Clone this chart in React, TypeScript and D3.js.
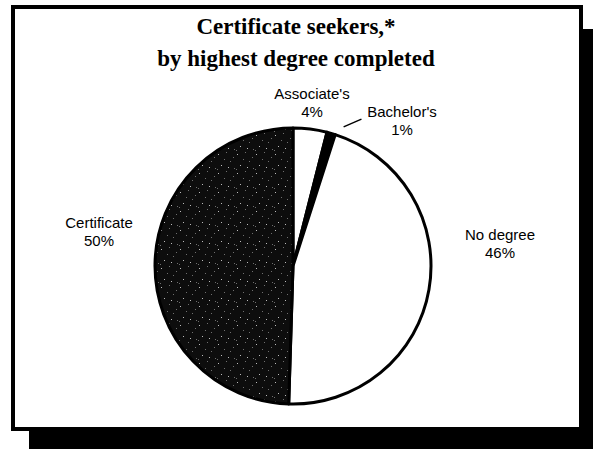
import React from "react";
import * as d3 from "d3";

const W = 593;
const H = 449;

const titleLines = ["Certificate seekers,*", "by highest degree completed"];
const categories = ["Associate's", "Bachelor's", "No degree", "Certificate"];
const shares = [4, 1, 46, 50];
const shareLabels = ["4%", "1%", "46%", "50%"];

// label anchors, relative to pie centre
const labelAt: Record<string, [number, number]> = {
  "Associate's": [19, -167],
  "Bachelor's": [109, -149],
  "No degree": [207, -26],
  Certificate: [-194, -38],
};

// a few fixed light specks for the grainy dark fill
const specks = [
  [1, 2], [9, 0], [13, 9], [4, 13], [16, 5], [0, 17], [11, 15], [7, 7], [17, 16],
];

export default function App() {
  const cx = 293;
  const cy = 266;
  const r = 138;

  const pie = d3
    .pie<number>()
    .sort(null)
    .value((d) => d);
  const arcs = pie(shares);
  const arc = d3.arc<d3.PieArcDatum<number>>().innerRadius(0).outerRadius(r);

  const fill = d3
    .scaleOrdinal<string, string>()
    .domain(categories)
    .range(["#ffffff", "#000000", "#ffffff", "url(#grain)"]);

  const bach = arcs[1];
  const leadA = 20 * (Math.PI / 180);
  const leadB = 25 * (Math.PI / 180);
  const p0 = d3.pointRadial(Math.max(bach.endAngle, leadA), r + 10);
  const p1 = d3.pointRadial(leadB, r + 24);

  return (
    <svg
      width={W}
      height={H}
      style={{ position: "absolute", left: 0, top: 0, background: "#fff" }}
    >
      <defs>
        <pattern id="grain" width={19} height={19} patternUnits="userSpaceOnUse">
          <rect width={19} height={19} fill="#0d0d0d" />
          {specks.map(([x, y], i) => (
            <rect key={i} x={x} y={y} width={1} height={1} fill={i % 3 ? "#6f6f6f" : "#bcbcbc"} />
          ))}
        </pattern>
      </defs>

      <rect x={29} y={29} width={W} height={H} fill="#000" />
      <rect x={13} y={7} width={568} height={422} fill="#fff" stroke="#000" strokeWidth={4} />

      <g fontFamily="Liberation Serif" fontWeight="bold" fontSize={23} textAnchor="middle">
        {titleLines.map((t, i) => (
          <text key={i} x={296} y={34 + i * 32}>
            {t}
          </text>
        ))}
      </g>

      <g transform={`translate(${cx},${cy})`}>
        {arcs.map((a, i) => (
          <path
            key={categories[i]}
            d={arc(a) || ""}
            fill={fill(categories[i])}
            stroke="#000"
            strokeWidth={3}
            strokeLinejoin="round"
          />
        ))}
        <line x1={p0[0]} y1={p0[1]} x2={p1[0]} y2={p1[1]} stroke="#000" strokeWidth={1.5} />
        <g fontFamily="Liberation Sans" fontSize={15} textAnchor="middle">
          {categories.map((c, i) => (
            <text key={c} x={labelAt[c][0]} y={labelAt[c][1]}>
              <tspan x={labelAt[c][0]}>{c}</tspan>
              <tspan x={labelAt[c][0]} dy={18}>
                {shareLabels[i]}
              </tspan>
            </text>
          ))}
        </g>
      </g>
    </svg>
  );
}
